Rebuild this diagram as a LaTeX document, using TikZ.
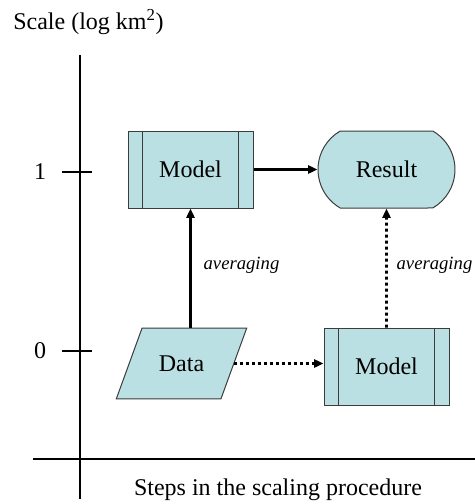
\documentclass[tikz,border=0pt]{standalone}
\usepackage{fontspec}
\setmainfont{Liberation Serif}
\usetikzlibrary{arrows.meta,shapes.geometric,shapes.misc}
\definecolor{boxfill}{HTML}{BBE0E3}
\definecolor{boxline}{HTML}{3C3C3C}

\begin{document}
\begin{tikzpicture}[
    x=0.75pt, y=-0.75pt,
    every node/.style={font=\fontsize{18}{21}\selectfont},
    box/.style={draw=boxline, fill=boxfill, line width=0.75pt, inner sep=0pt},
    process/.style={box, rectangle, minimum width=93.75pt, minimum height=57.75pt},
    terminal/.style={box, rounded rectangle, rounded rectangle arc length=120,
      minimum width=102.75pt, minimum height=57.75pt},
    iodata/.style={box, trapezium, trapezium left angle=70, trapezium right angle=110,
      text width=34pt, align=center, text height=12.5pt, text depth=0.5pt,
      inner xsep=12.6pt, inner ysep=20pt},
    axis/.style={line width=1.5pt},
    tick/.style={line width=2pt},
    flow/.style={line width=2pt, -{Triangle[length=7pt,width=6pt]}},
    dotflow/.style={flow, dash pattern=on 2.25pt off 2.25pt},
    note/.style={font=\fontsize{14}{16}\selectfont\itshape}
  ]
      \useasboundingbox (0,0) rectangle (475,504);

      % axes
      \coordinate (ytop) at (80,55);
      \coordinate (ybot) at (80,499);
      \coordinate (xl) at (33,459);
      \coordinate (xr) at (475,459);
      \draw[axis] (ytop) -- (ybot);
      \draw[axis] (xl) -- (xr);

      \node (scale) at (88.5,22) {Scale (log km\textsuperscript{2})};
      \node (steps) at (278,490) {Steps in the scaling procedure};
      \node (one) at (40,172) {1};
      \node (zero) at (40,351) {0};
      \foreach \t in {one, zero}
        \draw[tick] (62,0 |- \t) -- (92,0 |- \t);

      \node[process] (mtop) at (190.5,169.5) {Model};
      \node[terminal] (result) at (386.5,169.5) {Result};
      \node[iodata] (data) at (181.5,363.5) {Data};
      \node[process] (mbot) at (386.5,366.5) {Model};

      % inner bars of the process boxes
      \foreach \n in {mtop, mbot}
        \draw[draw=boxline, line width=0.75pt]
          ([xshift=11.25pt]\n.north west) -- ([xshift=11.25pt]\n.south west)
          ([xshift=-11.25pt]\n.north east) -- ([xshift=-11.25pt]\n.south east);

      \draw[flow] (mtop) -- (result);
      \draw[flow] (data.north -| mtop.south) -- (mtop.south);
      \draw[dotflow] (data.east) -- (data.east -| mbot.west);
      \draw[dotflow] (mbot) -- (result);

      \node[note] (avgl) at (241.5,265) {averaging};
      \node[note] (avgr) at (434.5,265) {averaging};

    \end{tikzpicture}
\end{document}
